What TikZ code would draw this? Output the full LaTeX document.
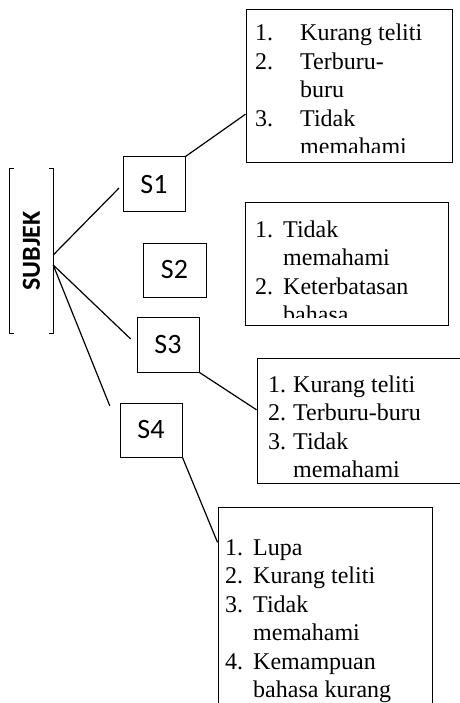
\documentclass[tikz,border=0pt]{standalone}
\usepackage{fontspec}
\setmainfont{Liberation Serif}
\newfontfamily\calibri{Carlito}
\tikzset{
  sbox/.style={draw, line width=1pt, inner sep=0pt, font=\calibri\fontsize{28}{32}\selectfont},
  listbox/.style={draw, line width=1pt, inner sep=0pt},
  listtext/.style={anchor=base west, inner sep=0pt, font=\fontsize{24}{28.5}\selectfont},
  link/.style={line width=1.2pt}
}
\begin{document}
\begin{tikzpicture}[x=1pt, y=-1pt]
	\useasboundingbox (0,0) rectangle (459,703);
	% Subject box
	\node[minimum width=43pt, minimum height=164pt, inner sep=0pt, font=\calibri\bfseries\fontsize{26}{30}\selectfont] (subjek) at (31.5,251) {\rotatebox{90}{SUBJEK}};
	\draw[line width=1pt] ([xshift=4pt]subjek.north west) -| (subjek.south west) -- ([xshift=4pt]subjek.south west);
	\draw[line width=1pt] ([xshift=-4pt]subjek.north east) -| (subjek.south east) -- ([xshift=-4pt]subjek.south east);
	% Subjects
	\node[sbox, minimum width=62pt, minimum height=55pt] (s1) at (154,184.5) {S1};
	\node[sbox, minimum width=63pt, minimum height=54pt] (s2) at (174.5,270) {S2};
	\node[sbox, minimum width=62pt, minimum height=55pt] (s3) at (168,344.5) {S3};
	\node[sbox, minimum width=62pt, minimum height=54pt] (s4) at (151,430) {S4};
	% Lists
	\node[listbox, minimum width=206pt, minimum height=153pt] (b1) at (349,86.5) {};
	\node[listbox, minimum width=203pt, minimum height=122pt] (b2) at (346.5,264) {};
	\node[listbox, minimum width=203pt, minimum height=125pt] (b3) at (358.5,420.5) {};
	\node[listbox, minimum width=214pt, minimum height=205pt] (b4) at (325,609.5) {};
	\begin{scope}
		\clip (b1.north west) rectangle ([yshift=11pt]b1.south east);
		\node[listtext] (t1) at (255,41) {\begin{tabular}[t]{@{}p{45pt}@{}l@{}}
			1. & Kurang teliti\\
			2. & Terburu-\\
			   & buru\\
			3. & Tidak\\
			   & memahami
		\end{tabular}};
	\end{scope}
	\begin{scope}
		\clip (b2.north west) rectangle ([yshift=8pt]b2.south east);
		\node[listtext] (t2) at (255,237) {\begin{tabular}[t]{@{}p{28pt}@{}l@{}}
			1. & Tidak\\
			   & memahami\\
			2. & Keterbatasan\\
			   & bahasa
		\end{tabular}};
	\end{scope}
	\node[listtext] (t3) at (268,392) {\begin{tabular}[t]{@{}p{25pt}@{}l@{}}
		1. & Kurang teliti\\
		2. & Terburu-buru\\
		3. & Tidak\\
		   & memahami
	\end{tabular}};
	\node[listtext] (t4) at (225,555) {\begin{tabular}[t]{@{}p{28pt}@{}l@{}}
		1. & Lupa\\
		2. & Kurang teliti\\
		3. & Tidak\\
		   & memahami\\
		4. & Kemampuan\\
		   & bahasa kurang
	\end{tabular}};
	% Connectors
	\draw[link, shorten >=5pt] ([yshift=-4pt]subjek.east) -- (s1.west);
	\draw[link, shorten >=8pt] ([yshift=-14pt]subjek.east) -- (s3.west);
	\draw[link, shorten >=26pt] ([yshift=-14pt]subjek.east) -- (s4.west);
	\draw[link] (s1.north east) -- (b1.195);
	\draw[link] (s3.south east) -- (b3.174);
	\draw[link] (s4.south east) -- (b4.148);
\end{tikzpicture}
\end{document}
